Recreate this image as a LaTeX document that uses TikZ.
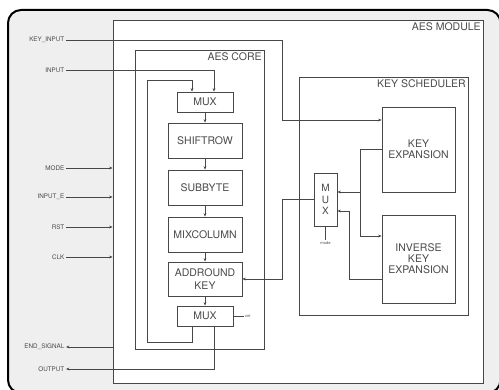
\documentclass[tikz,border=0pt]{standalone}
\usepackage{fontspec}
\setmainfont{TeX Gyre Heros}
\usetikzlibrary{arrows.meta}
\definecolor{wire}{HTML}{474747}
\definecolor{panel}{HTML}{EFEFEF}
\definecolor{ink}{HTML}{4A4A4A}

\begin{document}
\begin{tikzpicture}[x=1pt, y=-1pt,
    >={Stealth[length=3.4pt, width=2.8pt]},
    every node/.style={font=\fontsize{10.5}{12}\selectfont, text=ink},
    frame/.style={draw=wire, line width=0.8pt, fill=white, inner sep=0pt},
    blk/.style={draw=wire, line width=0.8pt, fill=white, align=center,
      inner sep=0pt},
    pin/.style={font=\fontsize{6.3}{7}\selectfont, anchor=east, inner sep=1.5pt},
    tiny/.style={font=\fontsize{4}{4.5}\selectfont, inner sep=1pt},
    wire/.style={draw=wire, line width=0.8pt}]
  \useasboundingbox (0,0) rectangle (499,390);
  \begin{scope}
    \clip (0,0) rectangle (499,390);
    \draw[line width=2pt, fill=panel, rounded corners=13pt]
      (8,10) rectangle (500.5,393);
  \end{scope}

  % containers
  \node[frame, minimum width=370, minimum height=363] (module) at (298,201.5) {};
  \node[anchor=north east, inner sep=2.5pt] at (module.north east) {AES MODULE};
  \node[frame, minimum width=129, minimum height=299] (core) at (199.5,199.5) {};
  \node[anchor=north east, inner sep=2.5pt] at (core.north east) {AES CORE};
  \node[frame, minimum width=169, minimum height=238] (sched) at (383.5,196) {};
  \node[anchor=north east, inner sep=2.5pt] at (sched.north east) {KEY SCHEDULER};

  % aes core
  \node[blk, minimum width=56, minimum height=20] (mux1) at (205,102) {MUX};
  \node[blk, minimum width=74, minimum height=35] (shift) at (205,140.5) {SHIFTROW};
  \node[blk, minimum width=74, minimum height=35] (subb) at (205,187.5) {SUBBYTE};
  \node[blk, minimum width=74, minimum height=35] (mixc) at (205,234.5) {MIXCOLUMN};
  \node[blk, minimum width=74, minimum height=34] (addk) at (205,279)
    {ADDROUND\\[1pt]KEY};
  \node[blk, minimum width=56, minimum height=20] (mux2) at (205,316) {MUX};
  \node[tiny, anchor=west] (cnt) at (244,316) {cnt};

  % key scheduler
  \node[blk, minimum width=73, minimum height=85] (kexp) at (418.5,149.5)
    {KEY\\[-1pt]EXPANSION};
  \node[blk, minimum width=73, minimum height=88] (iexp) at (418.5,259)
    {INVERSE\\[-1pt]KEY\\[-1pt]EXPANSION};
  \node[blk, minimum width=23, minimum height=53,
    font=\fontsize{10}{11.5}\selectfont] (kmux) at (325.5,199.5) {M\\U\\X};
  \node[tiny] (kmode) at (325.5,243) {mode};

  % pins
  \node[pin] (pkey) at (66,40) {KEY\_INPUT};
  \node[pin] (pin) at (66,70) {INPUT};
  \node[pin] (pmode) at (66,168) {MODE};
  \node[pin] (pine) at (66,197) {INPUT\_E};
  \node[pin] (prst) at (66,227) {RST};
  \node[pin] (pclk) at (66,257) {CLK};
  \node[pin] (pend) at (66,347) {END\_SIGNAL};
  \node[pin] (pout) at (66,369) {OUTPUT};

  \coordinate (kturn) at (282,120);
  \coordinate (loopbl) at (147,342);
  \coordinate (looptl) at (147,80);
  \coordinate (kjoin) at (360,192);
  \coordinate (ijoin) at (349,211);
  \coordinate (ajoin) at (282,279);

  % wires
  \draw[wire, ->] (pkey.east) -| (kturn) -- (kturn -| kexp.west);
  \draw[wire, ->] (pin.east) -| ([xshift=9]mux1.north);
  \foreach \p in {pmode, pine, prst, pclk}
    \draw[wire, ->] (\p.east) -- (\p.east -| module.west);
  \draw[wire, ->] (pend.east -| module.west) -- (pend.east);
  \draw[wire, ->] ([xshift=9]mux2.south) |- (pout.east);
  \draw[wire, ->] ([xshift=-13]mux2.south) |- (loopbl) -- (looptl)
    -| ([xshift=-13]mux1.north);
  \draw[wire, ->] (mux1) -- (shift);
  \draw[wire, ->] (shift) -- (subb);
  \draw[wire, ->] (subb) -- (mixc);
  \draw[wire, ->] (mixc) -- (addk);
  \draw[wire, ->] (addk) -- (mux2);
  \draw[wire] (mux2.east) -- (cnt.west);
  \draw[wire, ->] (kexp.west) -| (kjoin) -- (kjoin -| kmux.east);
  \draw[wire, ->] (kjoin) |- ([yshift=23]iexp.west);
  \draw[wire, ->] ([yshift=-20]iexp.west) -| (ijoin) -- (ijoin -| kmux.east);
  \draw[wire, ->] (kmux.west) -| (ajoin) -- (addk.east);
  \draw[wire] (kmux.south) -- (kmode.north);
\end{tikzpicture}
\end{document}
